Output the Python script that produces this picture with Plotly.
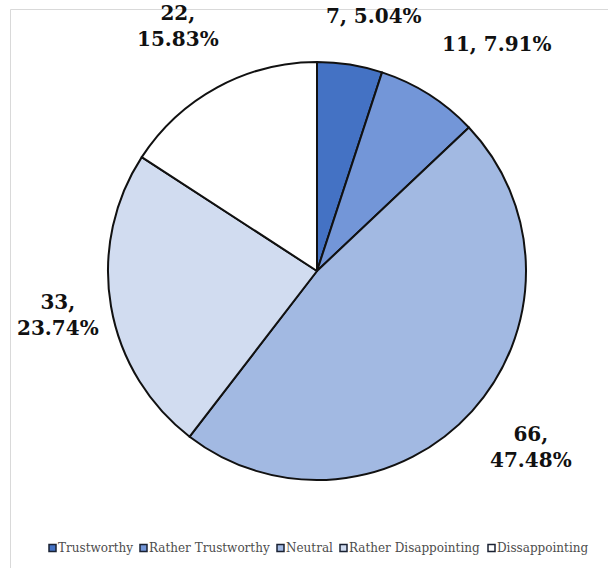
import plotly.graph_objects as go

# Survey responses
categories = ["Trustworthy", "Rather Trustworthy", "Neutral",
              "Rather Disappointing", "Dissappointing"]
counts = [7, 11, 66, 33, 22]
percents = [5.04, 7.91, 47.48, 23.74, 15.83]

# Styling
colors = ["#4472C4", "#7396D8", "#A2B9E2", "#D1DCF0", "#FFFFFF"]
label_breaks = [" ", " ", "<br>", "<br>", "<br>"]
SERIF = "DejaVu Serif"

W, H = 608, 568
def px(x):
    return x / W
def py(y):
    return 1 - y / H

# pie placement (pixels): center (317, 271), radius 209
cx, cy, r = 317, 271, 209

# data label anchor points (pixels) and legend layout (pixels)
label_xy = [(374, 16), (496, 44), (531, 447), (58, 315), (178, 26)]
legend_sq_x = [49, 140, 277, 340, 488]
legend_y = 548
sq = 7

fig = go.Figure(go.Pie(
    labels=categories,
    values=counts,
    sort=False,
    direction="clockwise",
    rotation=0,
    marker=dict(colors=colors, line=dict(color="#111111", width=2)),
    textinfo="none",
    hoverinfo="label+value+percent",
    showlegend=False,
    domain=dict(x=[px(cx - r), px(cx + r)], y=[py(cy + r), py(cy - r)]),
))

annotations = []
for n, p, brk, (lx, ly) in zip(counts, percents, label_breaks, label_xy):
    annotations.append(dict(
        x=px(lx), y=py(ly), xref="paper", yref="paper",
        text=f"<b>{n},{brk}{p:.2f}%</b>", showarrow=False,
        xanchor="center", yanchor="middle", align="center",
        font=dict(family=SERIF, size=20, color="#111111"),
    ))

shapes = [
    # light frame around the chart area
    dict(type="line", xref="paper", yref="paper",
         x0=px(10.5), x1=px(W + 5), y0=py(9.5), y1=py(9.5),
         line=dict(color="#D9D9D9", width=1)),
    dict(type="line", xref="paper", yref="paper",
         x0=px(10.5), x1=px(10.5), y0=py(9.5), y1=py(H + 5),
         line=dict(color="#D9D9D9", width=1)),
]

for name, col, sx in zip(categories, colors, legend_sq_x):
    shapes.append(dict(
        type="rect", xref="paper", yref="paper",
        x0=px(sx), x1=px(sx + sq), y0=py(legend_y + sq / 2), y1=py(legend_y - sq / 2),
        fillcolor=col, line=dict(color="#1A2233", width=1.5),
    ))
    annotations.append(dict(
        x=px(sx + sq), y=py(legend_y), xref="paper", yref="paper",
        text=name, showarrow=False, xanchor="left", yanchor="middle",
        font=dict(family=SERIF, size=12, color="#4D4D4D"),
    ))

fig.update_layout(
    width=W, height=H,
    margin=dict(l=0, r=0, t=0, b=0),
    paper_bgcolor="white",
    plot_bgcolor="white",
    annotations=annotations,
    shapes=shapes,
)

fig.write_html("out.html")
